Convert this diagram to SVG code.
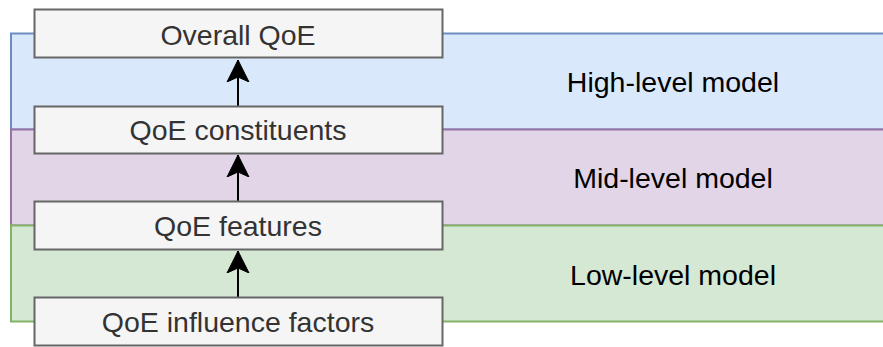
<svg xmlns="http://www.w3.org/2000/svg" width="883" height="347" viewBox="0 0 883 347">
<style>
.band{stroke-width:2}
.box{fill:#f5f5f5;stroke:#666666;stroke-width:2}
.bt{font-family:"Liberation Sans",Arial,sans-serif;font-size:28.5px;fill:#333333;text-anchor:middle}
.lt{font-family:"Liberation Sans",Arial,sans-serif;font-size:28.5px;fill:#000000;text-anchor:middle}
.conn{stroke:#000;stroke-width:2;fill:none}
</style>
<defs>
<marker id="ah" markerUnits="userSpaceOnUse" markerWidth="24" markerHeight="24" refX="22" refY="11" orient="auto" viewBox="0 0 24 22">
<path d="M0,0 L22,11 L0,22 L5,11 Z" fill="#000" stroke="#000" stroke-width="1"/>
</marker>
</defs>
<g id="bands">
<rect id="high" class="band" x="11" y="33.5" width="900" height="96" fill="#dae8fc" stroke="#6c8ebf"/>
<rect id="mid" class="band" x="11" y="129.5" width="900" height="96" fill="#e1d5e7" stroke="#9673a6"/>
<rect id="low" class="band" x="11" y="225.5" width="900" height="96" fill="#d5e8d4" stroke="#82b366"/>
<text class="lt" x="673" y="92">High-level model</text>
<text class="lt" x="673" y="188">Mid-level model</text>
<text class="lt" x="673" y="285">Low-level model</text>
</g>
<g id="connectors">
<line class="conn" x1="238" y1="106" x2="238" y2="60" marker-end="url(#ah)"/>
<line class="conn" x1="238" y1="201" x2="238" y2="155" marker-end="url(#ah)"/>
<line class="conn" x1="238" y1="298" x2="238" y2="251" marker-end="url(#ah)"/>
</g>
<g id="overall">
<rect class="box" x="34.5" y="9.5" width="408" height="48"/>
<text class="bt" x="238" y="45">Overall QoE</text>
</g>
<g id="constituents">
<rect class="box" x="34.5" y="106.5" width="408" height="47"/>
<text class="bt" x="238" y="140">QoE constituents</text>
</g>
<g id="features">
<rect class="box" x="34.5" y="201.5" width="408" height="48"/>
<text class="bt" x="238" y="236">QoE features</text>
</g>
<g id="influence">
<rect class="box" x="34.5" y="297.5" width="408" height="48"/>
<text class="bt" x="238" y="332">QoE influence factors</text>
</g>
</svg>
